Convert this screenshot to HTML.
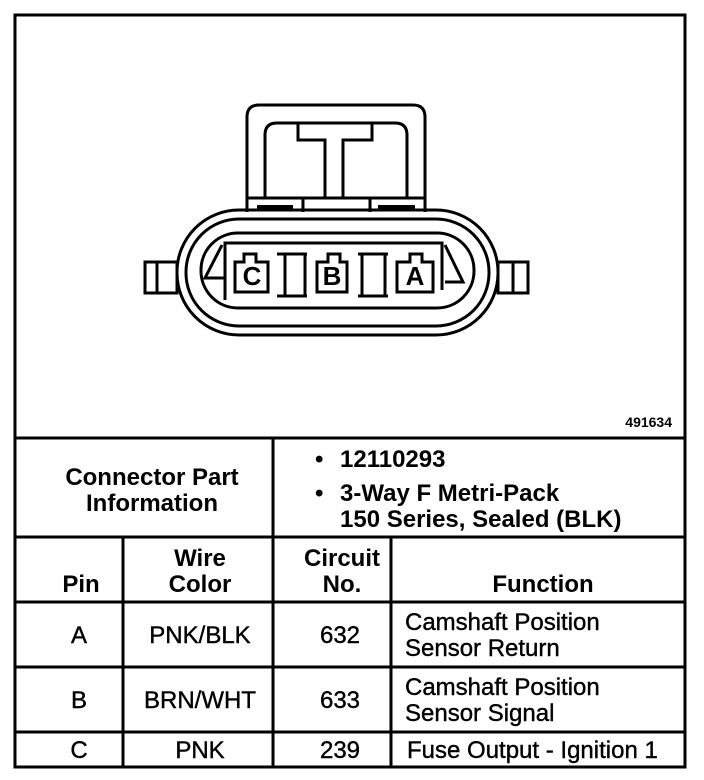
<!DOCTYPE html>
<html><head><meta charset="utf-8"><style>
html,body{margin:0;padding:0;background:#fff;}
svg{display:block;}
text{font-family:"Liberation Sans",Arial,sans-serif;fill:#000;}
.b{font-weight:bold;font-size:24px;}
.n{font-size:24px;stroke:#000;stroke-width:0.4px;}
</style></head><body>
<svg width="704" height="780" viewBox="0 0 704 780" xmlns="http://www.w3.org/2000/svg">
<g fill="none" stroke="#000" stroke-width="3">
<rect x="15" y="15" width="670" height="752"/>
<line x1="15" y1="438" x2="685" y2="438"/>
<line x1="15" y1="537" x2="685" y2="537"/>
<line x1="15" y1="602" x2="685" y2="602"/>
<line x1="15" y1="667" x2="685" y2="667"/>
<line x1="15" y1="732" x2="685" y2="732"/>
<line x1="273" y1="438" x2="273" y2="767"/>
<line x1="123" y1="537" x2="123" y2="767"/>
<line x1="391" y1="537" x2="391" y2="767"/>
</g>
<g fill="none" stroke="#000" stroke-width="3">
<path d="M247 212 V117 Q247 105 259 105 H413 Q425 105 425 117 V212"/>
<path d="M265 198 V135 Q265 123 277 123 H298 V140 H325 V198"/>
<path d="M343 198 V140 H372 V123 H395 Q407 123 407 135 V198"/>
<line x1="298" y1="123" x2="372" y2="123"/>
<line x1="247" y1="198" x2="425" y2="198"/>
<line x1="303" y1="198" x2="303" y2="212"/>
<line x1="370" y1="198" x2="370" y2="212"/>
<rect x="145" y="262" width="32" height="31"/>
<line x1="157" y1="262" x2="157" y2="293"/>
<rect x="498" y="262" width="30" height="31"/>
<line x1="513" y1="262" x2="513" y2="293"/>
<rect x="177" y="210" width="321" height="125" rx="62"/>
<rect x="186" y="219" width="303" height="107" rx="53"/>
<rect x="201" y="233" width="273" height="75" rx="37"/>
<path d="M225 300 V243 H442 V290"/>
<path d="M222 245 L205 278 H225"/>
<path d="M445 245 L463 282 H445"/>
<path d="M235 292 V262 H244 V254 H256 V262 H268 V292 Z"/>
<path d="M317 292 V262 H328 V254 H340 V262 H347 V292 Z"/>
<path d="M397 292 V262 H410 V254 H422 V262 H433 V292 Z"/>
<line x1="285" y1="254" x2="285" y2="296"/>
<line x1="305" y1="254" x2="305" y2="296"/>
<line x1="277" y1="296" x2="307" y2="296"/>
<line x1="277" y1="254" x2="307" y2="254"/>
<line x1="362" y1="254" x2="362" y2="296"/>
<line x1="385" y1="254" x2="385" y2="296"/>
<line x1="358" y1="296" x2="388" y2="296"/>
<line x1="358" y1="254" x2="388" y2="254"/>
</g>
<g fill="#000">
<rect x="257" y="205" width="36" height="4"/>
<rect x="378" y="205" width="37" height="4"/>
</g>
<text x="252" y="285" text-anchor="middle" style="font-weight:bold;font-size:26px">C</text>
<text x="332" y="285" text-anchor="middle" style="font-weight:bold;font-size:26px">B</text>
<text x="415" y="285" text-anchor="middle" style="font-weight:bold;font-size:26px">A</text>
<text x="672" y="427" text-anchor="end" style="font-weight:bold;font-size:14px">491634</text>
<text x="152" y="485" text-anchor="middle" class="b">Connector Part</text>
<text x="152" y="511" text-anchor="middle" class="b">Information</text>
<text x="315" y="467" class="b">•</text>
<text x="340" y="467" class="b">12110293</text>
<text x="315" y="501" class="b">•</text>
<text x="340" y="501" class="b">3-Way F Metri-Pack</text>
<text x="340" y="527" class="b">150 Series, Sealed (BLK)</text>
<text x="81" y="592" text-anchor="middle" class="b">Pin</text>
<text x="200" y="566" text-anchor="middle" class="b">Wire</text>
<text x="200" y="592" text-anchor="middle" class="b">Color</text>
<text x="342" y="566" text-anchor="middle" class="b">Circuit</text>
<text x="342" y="592" text-anchor="middle" class="b">No.</text>
<text x="543" y="592" text-anchor="middle" class="b">Function</text>
<text x="79" y="643" text-anchor="middle" class="n">A</text>
<text x="200" y="643" text-anchor="middle" class="n">PNK/BLK</text>
<text x="340" y="643" text-anchor="middle" class="n">632</text>
<text x="405" y="630" class="n">Camshaft Position</text>
<text x="405" y="656" class="n">Sensor Return</text>
<text x="79" y="708" text-anchor="middle" class="n">B</text>
<text x="200" y="708" text-anchor="middle" class="n">BRN/WHT</text>
<text x="340" y="708" text-anchor="middle" class="n">633</text>
<text x="405" y="695" class="n">Camshaft Position</text>
<text x="405" y="721" class="n">Sensor Signal</text>
<text x="79" y="758" text-anchor="middle" class="n">C</text>
<text x="200" y="758" text-anchor="middle" class="n">PNK</text>
<text x="340" y="758" text-anchor="middle" class="n">239</text>
<text x="407" y="758" class="n">Fuse Output - Ignition 1</text>
</svg>
</body></html>
